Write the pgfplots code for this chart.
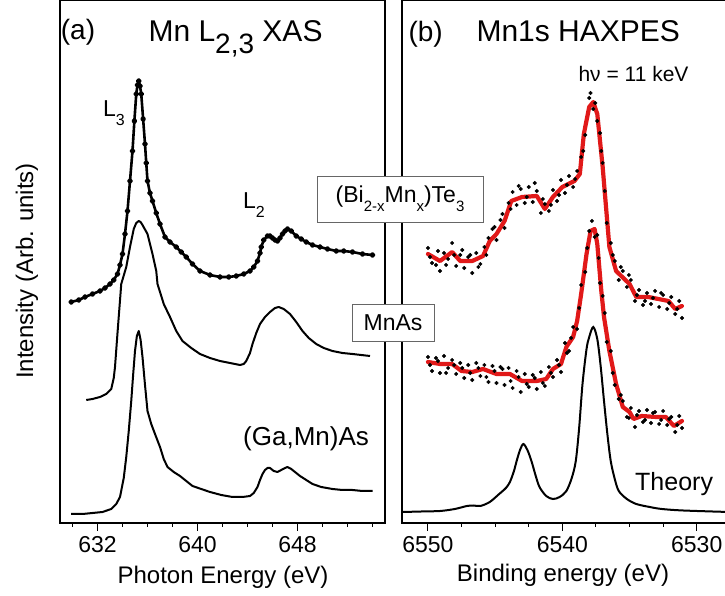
\documentclass[border=0pt]{standalone}
\usepackage{pgfplots}
\pgfplotsset{compat=1.18}
\usepackage{fontspec}
\setmainfont{Liberation Sans}
\definecolor{myred}{RGB}{225,25,25}
\newcommand{\fs}[1]{\fontsize{#1}{#1}\selectfont}
\newcommand{\sub}[2]{\raisebox{-0.38em}{\fontsize{#1}{#1}\selectfont #2}}
\begin{document}
\begin{tikzpicture}
\pgfplotsset{
  common/.style={
    scale only axis, height=523pt, ymin=0, ymax=523,
    ytick=\empty, axis line style={line width=1.3pt},
    tick align=outside, xtick pos=bottom,
    major tick length=8pt, minor tick length=4pt,
    every tick/.style={line width=1.1pt, black},
    ticklabel style={font=\fs{23}},
    /pgf/number format/assume math mode=true,
    /pgf/number format/1000 sep={},
    xticklabel style={yshift=-2pt},
    clip=true,
  }
}
% ---------- left panel ----------
\begin{axis}[common, at={(0pt,0pt)}, anchor=south west, width=325pt,
  xmin=629, xmax=655, xtick={632,640,648},
  minor xtick={630,634,636,638,642,644,646,650,652,654}]
% (Bi,Mn)Te XAS (dotted data)
\addplot[black, line width=2.6pt, line join=round, mark=*, mark size=1.6pt] coordinates {
(629.9,221) (630.5,223) (631,226) (631.6,229) (632.2,232) (632.6,235) (633,239) (633.3,243) (633.6,249)
(633.8,258) (634,269) (634.2,289) (634.4,312) (634.6,342) (634.8,372) (634.95,402) (635.1,429) (635.2,438) (635.3,442)
(635.4,437) (635.5,429) (635.65,404) (635.8,379) (635.9,360) (636,342) (636.2,330) (636.4,322) (636.7,310) (637,299)
(637.4,286) (637.8,281) (638.3,276) (638.7,271) (639.1,266) (639.6,259) (640.2,252) (641,248) (641.8,246)
(642.5,246) (643.1,247) (643.7,249) (644.2,252) (644.5,256) (644.8,262) (645,270) (645.1,276) (645.3,283) (645.6,287)
(645.8,287) (646.0,285) (646.2,283) (646.4,282) (646.6,285) (646.8,289) (647,292) (647.2,294) (647.5,292) (647.9,287)
(648.3,284) (648.7,281) (649.2,278) (649.8,276) (650.4,274) (651.1,272) (651.7,272) (652.4,271) (653.2,269) (654,268)
};
% MnAs XAS
\addplot[black, line width=2pt, line join=round] coordinates {
(631.1,123) (631.6,124) (632.2,126) (632.7,129) (633.1,134) (633.3,145) (633.4,156) (633.6,190) (633.9,239)
(634.3,256) (634.6,276) (634.9,294) (635.1,300) (635.3,302) (635.45,301) (635.6,298) (636,289) (636.4,269)
(636.7,252) (636.8,239) (637.3,219) (637.8,206) (638.3,192) (638.8,182) (639.5,175) (640.2,169) (641,165) (641.8,162)
(642.6,160) (643.4,158) (643.7,159) (643.9,162) (644.2,170) (644.4,179) (644.7,190) (645,199) (645.4,206) (645.8,211)
(646.2,215) (646.5,216) (646.9,214) (647.4,209) (647.9,201) (648.4,192) (648.9,185) (649.5,179) (650.1,175) (650.8,172)
(651.6,170) (652.4,169) (653.1,168) (653.8,167)
};
% (Ga,Mn)As XAS
\addplot[black, line width=2pt, line join=round] coordinates {
(629.9,9) (630.8,9) (631.6,10) (632.4,11) (633.1,14) (633.5,19) (633.8,26) (634.1,45) (634.3,66) (634.5,92)
(634.7,122) (634.85,148) (635,172) (635.15,187) (635.3,192) (635.45,183) (635.6,166) (635.8,138) (636,112) (636.3,99)
(636.6,89) (637,76) (637.3,64) (637.6,56) (638.1,51) (638.6,47) (639.1,42) (639.6,37) (640.3,34) (641,31)
(641.9,28) (642.8,26) (643.6,26) (644.2,27) (644.5,30) (644.8,36) (645,43) (645.2,49) (645.4,53) (645.6,55)
(645.8,55) (646.1,52) (646.4,51) (646.7,53) (647,55) (647.2,56) (647.5,54) (647.8,51) (648.2,47) (648.7,43)
(649.2,39) (649.9,36) (650.8,34) (651.6,33) (652.4,33) (653.2,32) (654,32)
};
\end{axis}
% ---------- right panel ----------
\begin{axis}[common, at={(342pt,0pt)}, anchor=south west, width=327pt,
  x dir=reverse, xmin=6527.6, xmax=6551.93, xtick={6550,6540,6530},
  minor xtick={6547.5,6545,6542.5,6537.5,6535,6532.5}]
% (Bi,Mn)Te data dots
\addplot[only marks, mark=*, mark size=1.8pt, black] coordinates {
(6550.0,275) (6549.7,260) (6549.4,258) (6549.1,252) (6548.8,270) (6548.5,264) (6548.2,280) (6547.9,257)
(6547.6,268) (6547.3,255) (6547.0,266) (6546.7,250) (6546.4,270) (6546.1,259) (6545.8,276) (6545.5,285)
(6545.2,294) (6544.9,283) (6544.6,303) (6544.3,295) (6544.0,320) (6543.7,331) (6543.4,318) (6543.1,334)
(6542.8,320) (6542.5,336) (6542.2,321) (6541.9,332) (6541.6,310) (6541.3,319) (6541.0,312) (6540.7,333)
(6540.4,322) (6540.1,343) (6539.8,330) (6539.5,347) (6539.2,336) (6538.9,352) (6538.6,366) (6538.3,388)
(6538.0,425) (6537.9,430) (6537.7,414) (6537.4,402) (6537.2,390) (6537.0,360) (6536.7,300) (6536.4,280)
(6536.1,262) (6535.8,243) (6535.5,252) (6535.2,236) (6534.9,243) (6534.6,222) (6534.3,233) (6534.0,218)
(6533.7,230) (6533.4,219) (6533.1,232) (6532.8,216) (6532.5,228) (6532.2,214) (6531.9,226) (6531.6,209)
(6531.3,222) (6531.1,205)
(6549.85,266) (6549.25,272) (6548.65,258) (6548.05,268) (6547.45,273) (6546.85,268) (6546.25,256)
(6545.65,268) (6545.05,296) (6544.45,309) (6543.85,314) (6543.25,337) (6542.65,326) (6542.05,340)
(6541.45,324) (6540.85,318) (6540.25,328) (6539.65,338) (6539.05,344) (6538.45,372) (6537.55,420)
(6537.1,372) (6536.85,332) (6536.25,268) (6535.65,256) (6535.05,248) (6534.45,228) (6533.85,222)
(6533.25,225) (6532.65,230) (6532.05,220) (6531.45,214)
};
\addplot[myred, line width=4.2pt, line join=round, line cap=round] coordinates {
(6550,269) (6549.1,262) (6548.2,271) (6547.6,262) (6546.7,262) (6545.9,267) (6545.4,282) (6544.9,289)
(6544.3,302) (6543.8,322) (6543,326) (6541.9,327) (6541.3,314) (6540.7,326) (6540,336) (6539.1,342)
(6538.7,349) (6538.4,389) (6538,416) (6537.7,421) (6537.4,409) (6537,356) (6536.5,276) (6536,252)
(6535,239) (6534.5,226) (6533.6,226) (6532.1,222) (6531.6,214) (6531.1,217)
};
% MnAs data dots
\addplot[only marks, mark=*, mark size=1.8pt, black] coordinates {
(6550.0,166) (6549.7,152) (6549.4,165) (6549.1,150) (6548.8,167) (6548.5,155) (6548.2,163) (6547.9,149)
(6547.6,160) (6547.3,145) (6547.0,158) (6546.7,143) (6546.4,160) (6546.1,147) (6545.8,158) (6545.5,141)
(6545.2,157) (6544.9,140) (6544.6,156) (6544.3,138) (6544.0,155) (6543.7,135) (6543.4,152) (6543.1,131)
(6542.8,149) (6542.5,136) (6542.2,148) (6541.9,134) (6541.6,151) (6541.3,137) (6541.0,156) (6540.7,146)
(6540.4,163) (6540.1,151) (6539.8,180) (6539.5,172) (6539.2,196) (6538.9,194) (6538.6,238) (6538.3,251)
(6538.0,292) (6537.8,302) (6537.6,286) (6537.4,288) (6537.2,240) (6537.0,227) (6536.7,181) (6536.4,172)
(6536.1,138) (6535.8,124) (6535.5,122) (6535.2,106) (6534.9,115) (6534.6,96) (6534.3,112) (6534.0,101)
(6533.7,113) (6533.4,100) (6533.1,111) (6532.8,99) (6532.5,112) (6532.2,98) (6531.9,106) (6531.6,91)
(6531.3,107) (6531.1,95)
(6549.85,158) (6549.25,162) (6548.65,150) (6548.05,158) (6547.45,155) (6546.85,150) (6546.25,155)
(6545.65,146) (6545.05,152) (6544.45,154) (6543.85,142) (6543.25,146) (6542.65,139) (6542.05,145)
(6541.45,140) (6540.85,150) (6540.25,158) (6539.65,170) (6539.35,185) (6538.75,215) (6538.15,275)
(6537.3,265) (6536.85,210) (6536.25,150) (6535.65,128) (6535.05,105) (6534.45,108) (6533.85,103)
(6533.25,110) (6532.65,103) (6532.05,104) (6531.45,98)
};
\addplot[myred, line width=4.2pt, line join=round, line cap=round] coordinates {
(6550,161) (6549.1,159) (6548.2,159) (6547.5,152) (6546.7,151) (6545.9,154) (6544.9,149) (6543.9,149)
(6543,142) (6541.9,142) (6541.2,144) (6540.7,154) (6540.1,159) (6539.7,176) (6539.2,186) (6538.9,202)
(6538.6,229) (6538.2,269) (6537.9,292) (6537.6,294) (6537.4,279) (6537.1,232) (6536.9,206) (6536.5,172)
(6536,139) (6535.5,116) (6535,111) (6534.7,104) (6534.1,107) (6533,106) (6532.3,106) (6531.7,97) (6531.1,102)
};
% Theory
\addplot[black, line width=2pt, smooth, tension=0.5] coordinates {
(6551.9,11) (6550.5,11.5) (6549.1,12) (6548,14) (6547.1,17) (6546.6,17.5) (6546.1,17) (6545.4,21) (6544.7,29)
(6544.2,35) (6543.9,41) (6543.6,52) (6543.4,62) (6543.15,73) (6542.9,79) (6542.6,73) (6542.3,62) (6542,48)
(6541.7,36) (6541.2,27) (6540.7,24) (6540.2,26) (6539.7,32) (6539.3,45) (6539,62) (6538.75,95) (6538.5,139)
(6538.2,174) (6538,186) (6537.7,196) (6537.4,184) (6537.15,157) (6536.9,122) (6536.65,89) (6536.4,62)
(6536.1,44) (6535.8,32) (6535.2,24) (6534.5,19) (6533.5,16) (6532.6,14) (6531,12.5) (6527.6,11)
};
\end{axis}
% ---------- texts ----------
\node[font=\fs{28}] at (18pt,491pt) {(a)};
\node[font=\fs{30}, anchor=base west] at (85pt,481pt) {Mn L\sub{28}{2,3} XAS};
\node[font=\fs{28}, anchor=base west] at (345pt,481pt) {(b)};
\node[font=\fs{30}, anchor=base west] at (413pt,481pt) {Mn1s HAXPES};
\node[font=\fs{21}, anchor=base west] at (515pt,441pt) {hν = 11 keV};
\node[font=\fs{23}, anchor=base west, inner sep=0pt] at (43pt,406pt) {L\sub{16}{3}};
\node[font=\fs{23}, anchor=base west, inner sep=0pt] at (183pt,314pt) {L\sub{16}{2}};
\node[font=\fs{26}, anchor=base west, inner sep=0pt] at (183pt,77pt) {(Ga,Mn)As};
\node[font=\fs{25}, anchor=base west, inner sep=0pt] at (575pt,32pt) {Theory};
\node[draw=gray!80!black, line width=0.8pt, fill=white, minimum width=166pt, minimum height=46pt, inner sep=0pt, font=\fs{23}]
  at (340pt,324pt) {(Bi\sub{15}{2-x}Mn\sub{15}{x})Te\sub{15}{3}};
\node[draw=gray!80!black, line width=0.8pt, fill=white, minimum width=82pt, minimum height=37pt, inner sep=0pt, font=\fs{23}]
  at (333pt,200.5pt) {MnAs};
\node[font=\fs{24}] at (163pt,-54pt) {Photon Energy (eV)};
\node[font=\fs{24}] at (503pt,-52pt) {Binding energy (eV)};
\node[font=\fs{24}, rotate=90] at (-33pt,252pt) {Intensity (Arb. units)};
\pgfresetboundingbox
\path (-60pt,-73pt) rectangle (665pt,523pt);
\end{tikzpicture}
\end{document}
